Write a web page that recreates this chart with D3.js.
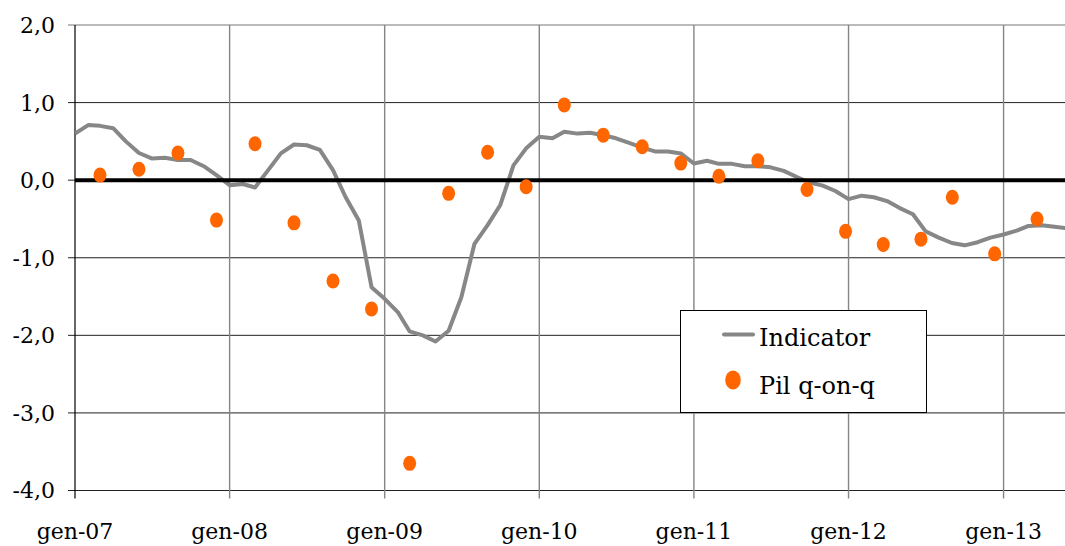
<!DOCTYPE html>
<html>
<head>
<meta charset="utf-8">
<script src="https://cdn.jsdelivr.net/npm/d3@7"></script>
<style>
  body { margin: 0; background: #fff; }
  text { font-family: "DejaVu Serif", serif; fill: #000; }
</style>
</head>
<body>
<div id="graph1"></div>
<script>
// Indicator (monthly) and Pil q-on-q (quarterly), gen-07 .. mag-13
let lineDates = [
  "2007-01-01","2007-02-01","2007-03-01","2007-04-01","2007-05-01","2007-06-01",
  "2007-07-01","2007-08-01","2007-09-01","2007-10-01","2007-11-01","2007-12-01",
  "2008-01-01","2008-02-01","2008-03-01","2008-04-01","2008-05-01","2008-06-01",
  "2008-07-01","2008-08-01","2008-09-01","2008-10-01","2008-11-01","2008-12-01",
  "2009-01-01","2009-02-01","2009-03-01","2009-04-01","2009-05-01","2009-06-01",
  "2009-07-01","2009-08-01","2009-09-01","2009-10-01","2009-11-01","2009-12-01",
  "2010-01-01","2010-02-01","2010-03-01","2010-04-01","2010-05-01","2010-06-01",
  "2010-07-01","2010-08-01","2010-09-01","2010-10-01","2010-11-01","2010-12-01",
  "2011-01-01","2011-02-01","2011-03-01","2011-04-01","2011-05-01","2011-06-01",
  "2011-07-01","2011-08-01","2011-09-01","2011-10-01","2011-11-01","2011-12-01",
  "2012-01-01","2012-02-01","2012-03-01","2012-04-01","2012-05-01","2012-06-01",
  "2012-07-01","2012-08-01","2012-09-01","2012-10-01","2012-11-01","2012-12-01",
  "2013-01-01","2013-02-01","2013-03-01","2013-04-01","2013-05-01","2013-06-01"
];
let indicator = [
  0.60, 0.71, 0.70, 0.67, 0.50, 0.35, 0.28, 0.29, 0.26, 0.26, 0.18, 0.065,
  -0.065, -0.05, -0.095, 0.13, 0.345, 0.46, 0.45, 0.39, 0.13, -0.22, -0.52, -1.38,
  -1.53, -1.70, -1.95, -2.00, -2.08, -1.94, -1.51, -0.82, -0.58, -0.32, 0.19, 0.41,
  0.56, 0.54, 0.625, 0.60, 0.61, 0.58, 0.54, 0.48, 0.42, 0.37, 0.37, 0.345,
  0.215, 0.25, 0.21, 0.21, 0.18, 0.18, 0.165, 0.12, 0.04, -0.03, -0.07, -0.14,
  -0.245, -0.20, -0.22, -0.27, -0.36, -0.44, -0.66, -0.74, -0.81, -0.84, -0.80, -0.74,
  -0.70, -0.65, -0.59, -0.58, -0.60, -0.62
];

let pilDates = [
  "2007-03-01","2007-06-01","2007-09-01","2007-12-01",
  "2008-03-01","2008-06-01","2008-09-01","2008-12-01",
  "2009-03-01","2009-06-01","2009-09-01","2009-12-01",
  "2010-03-01","2010-06-01","2010-09-01","2010-12-01",
  "2011-03-01","2011-06-01","2011-09-25","2011-12-25",
  "2012-03-23","2012-06-20","2012-09-02","2012-12-11",
  "2013-03-21"
];
let pil = [
  0.065, 0.14, 0.35, -0.515,
  0.47, -0.55, -1.30, -1.66,
  -3.65, -0.17, 0.36, -0.085,
  0.97, 0.58, 0.43, 0.22,
  0.05, 0.25, -0.12, -0.66,
  -0.83, -0.76, -0.22, -0.95,
  -0.50
];

let yTicks = [2, 1, 0, -1, -2, -3, -4];
let xTickDates = ["2007-01-01","2008-01-01","2009-01-01","2010-01-01","2011-01-01","2012-01-01","2013-01-01"];
let xTickLabels = ["gen-07","gen-08","gen-09","gen-10","gen-11","gen-12","gen-13"];
let seriesNames = ["Indicator", "Pil q-on-q"];

let width = 1065, height = 546;
let parse = d3.timeParse("%Y-%m-%d");

let svg = d3.select("#graph1")
    .append("svg")
    .attr("width", width)
    .attr("height", height);

let x = d3.scaleTime()
    .domain([parse("2007-01-01"), parse("2013-05-26")])
    .range([75, 1065]);

let y = d3.scaleLinear()
    .domain([-4, 2])
    .range([490.5, 25]);

// horizontal grid
svg.append("g")
    .selectAll("line")
    .data(yTicks)
    .enter()
    .append("line")
    .attr("x1", 68)
    .attr("x2", width)
    .attr("y1", function(d) { return y(d); })
    .attr("y2", function(d) { return y(d); })
    .attr("stroke", function(d) { return d == 2 ? "#777" : "#222"; })
    .attr("stroke-width", 1);

// vertical grid (years), also the ticks below the axis
svg.append("g")
    .selectAll("line")
    .data(xTickDates)
    .enter()
    .append("line")
    .attr("x1", function(d) { return x(parse(d)); })
    .attr("x2", function(d) { return x(parse(d)); })
    .attr("y1", y(2))
    .attr("y2", y(-4) + 8)
    .attr("stroke", function(d, i) { return i == 0 ? "#000" : "#858585"; })
    .attr("stroke-width", function(d, i) { return i == 0 ? 1.2 : 1.4; });

// y labels
svg.append("g")
    .selectAll("text")
    .data(yTicks)
    .enter()
    .append("text")
    .attr("x", 55)
    .attr("y", function(d) { return y(d); })
    .attr("dy", "0.36em")
    .style("text-anchor", "end")
    .style("font-size", "22px")
    .text(function(d) { return d3.format(".1f")(d).replace(".", ",").replace("−", "-"); });

// x labels
svg.append("g")
    .selectAll("text")
    .data(xTickDates)
    .enter()
    .append("text")
    .attr("x", function(d) { return x(parse(d)); })
    .attr("y", 539)
    .style("text-anchor", "middle")
    .style("font-size", "22px")
    .text(function(d, i) { return xTickLabels[i]; });

// Indicator line
let lineData = lineDates.map(function(d, i) { return {date: parse(d), value: indicator[i]}; });
let line = d3.line()
    .x(function(d) { return x(d.date); })
    .y(function(d) { return y(d.value); });

svg.append("defs").append("clipPath")
    .attr("id", "plotclip")
    .append("rect")
    .attr("x", 75).attr("y", 0)
    .attr("width", width - 75).attr("height", height);

svg.append("path")
    .datum(lineData)
    .attr("clip-path", "url(#plotclip)")
    .attr("d", line)
    .attr("fill", "none")
    .attr("stroke", "#878787")
    .attr("stroke-width", 4)
    .attr("stroke-linejoin", "round");

// zero line
svg.append("line")
    .attr("x1", 75)
    .attr("x2", width)
    .attr("y1", y(0))
    .attr("y2", y(0))
    .attr("stroke", "#000")
    .attr("stroke-width", 4);

// Pil dots
let pilData = pilDates.map(function(d, i) { return {date: parse(d), value: pil[i]}; });
svg.append("g")
    .selectAll("ellipse")
    .data(pilData)
    .enter()
    .append("ellipse")
    .attr("cx", function(d) { return x(d.date); })
    .attr("cy", function(d) { return y(d.value); })
    .attr("rx", 6.5)
    .attr("ry", 7.5)
    .attr("fill", "#ff6600");

// legend
let legend = svg.append("g");
legend.append("rect")
    .attr("x", 680.5)
    .attr("y", 310.5)
    .attr("width", 246)
    .attr("height", 102)
    .attr("fill", "#fff")
    .attr("stroke", "#000")
    .attr("stroke-width", 1);
legend.append("line")
    .attr("x1", 724)
    .attr("x2", 753)
    .attr("y1", 334.5)
    .attr("y2", 334.5)
    .attr("stroke", "#878787")
    .attr("stroke-width", 4)
    .attr("stroke-linecap", "round");
legend.append("ellipse")
    .attr("cx", 733)
    .attr("cy", 380)
    .attr("rx", 7.8)
    .attr("ry", 9.5)
    .attr("fill", "#ff6600");
legend.selectAll("text.leg")
    .data(seriesNames)
    .enter()
    .append("text")
    .attr("class", "leg")
    .attr("x", 759)
    .attr("y", function(d, i) { return i == 0 ? 346 : 394; })
    .style("font-size", "24px")
    .text(function(d) { return d; });
</script>
</body>
</html>
